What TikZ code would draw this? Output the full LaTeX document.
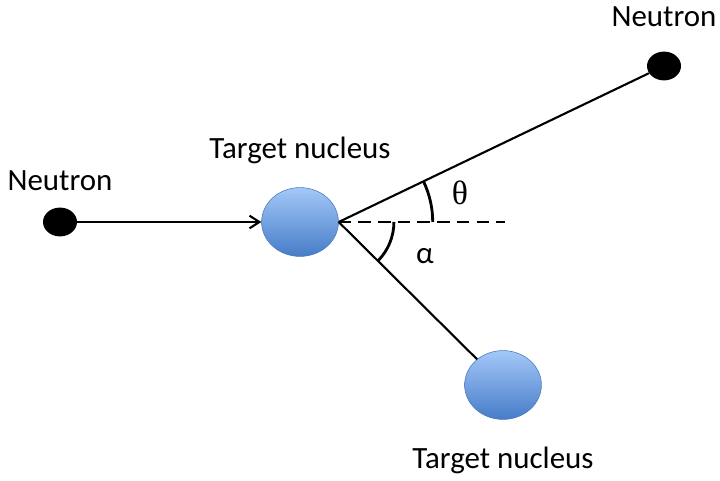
\documentclass[tikz,border=0pt]{standalone}
\usepackage{fontspec}
\setmainfont{Carlito}
\newfontfamily\symfont{Liberation Serif}
\usetikzlibrary{shapes.geometric, arrows.meta, positioning, angles}

\begin{document}
\begin{tikzpicture}[
      x=0.025cm, y=0.025cm,
      font=\fontsize{22}{26}\selectfont,
      neutron/.style={ellipse, fill=black, inner sep=0pt, minimum width=0.85cm, minimum height=0.72cm},
      nucleus/.style={ellipse, draw={rgb,255:red,74;green,122;blue,186}, thin, inner sep=0pt,
        top color={rgb,255:red,164;green,200;blue,248}, bottom color={rgb,255:red,70;green,124;blue,200},
        minimum width=1.92cm, minimum height=1.72cm},
      lbl/.style={inner sep=0pt},
      track/.style={line width=1.5pt},
      arrow/.style={-{Straight Barb[length=7pt, width=9pt]}, line width=1.5pt}
    ]
    \useasboundingbox (0,0) rectangle (720,480);

    % incoming neutron and target at rest
    \node[neutron] (n1) at (60,258) {};
    \node[nucleus] (t1) at (300,258) {};
    \node[lbl, above=0.42cm of n1] (n1l) {Neutron};
    \node[lbl, above=0.58cm of t1] (t1l) {Target nucleus};

    % scattered neutron and recoil nucleus
    \node[neutron] (n2) at (664,414) {};
    \node[nucleus] (t2) at (503,95) {};
    \node[lbl, above=0.6cm of n2] (n2l) {Neutron};
    \node[lbl, below=0.68cm of t2] (t2l) {Target nucleus};

    \coordinate (o) at (t1.east);
    \coordinate (dend) at (505,258);

    \draw[arrow] (n1) -- (t1);
    \draw[track] (o) -- (n2);
    \draw[track] (o) -- (t2);
    \draw[track, dashed, dash pattern=on 9pt off 5pt] (o) -- (dend);

    % angles
    \pic[draw, line width=2pt, angle radius=2.35cm] {angle=dend--o--n2};
    \pic[draw, line width=2pt, angle radius=1.38cm] {angle=t2--o--dend};
    \node[lbl] (th) at (460,287) {\fontsize{24}{28}\symfont θ};
    \node[lbl] (al) at (425,224) {α};
  \end{tikzpicture}
\end{document}
